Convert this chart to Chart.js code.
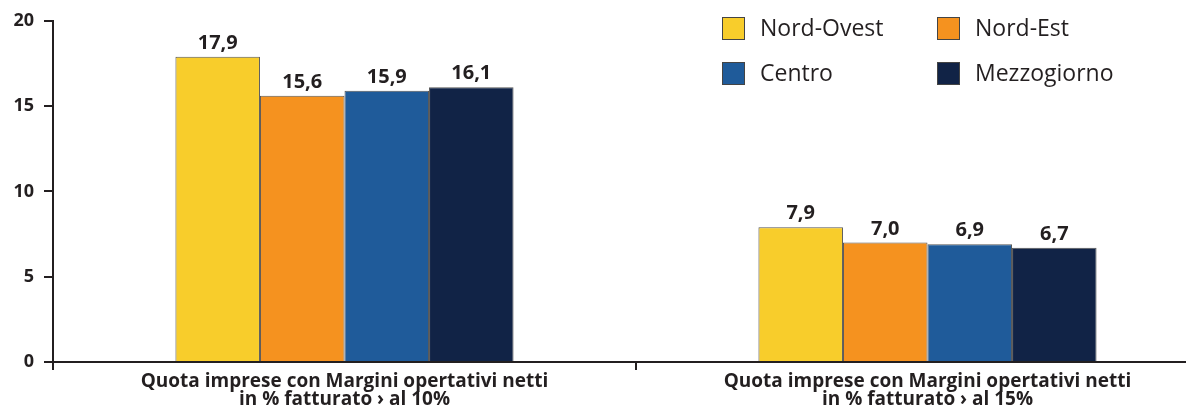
<!DOCTYPE html>
<html>
<head>
<meta charset="utf-8">
<script src="https://cdn.jsdelivr.net/npm/chart.js@4/dist/chart.umd.min.js"></script>
<style>
  html, body { margin: 0; padding: 0; background: #fff; overflow: hidden; }
  /* the category axis runs a little past the right edge of the picture */
  #wrap { width: 1219px; height: 413px; position: relative; }
</style>
</head>
<body>
<div id="wrap"><canvas id="chart"></canvas></div>
<script>
// data
const categories = [
  ['Quota imprese con Margini opertativi netti', 'in % fatturato \u203A al 10%'],
  ['Quota imprese con Margini opertativi netti', 'in % fatturato \u203A al 15%']
];
const seriesNames = ['Nord-Ovest', 'Nord-Est', 'Centro', 'Mezzogiorno'];
const nordOvest = [17.9, 7.9];
const nordEst = [15.6, 7.0];
const centro = [15.9, 6.9];
const mezzogiorno = [16.1, 6.7];
const yTicks = [0, 5, 10, 15, 20];

const colors = ['#F8CD2B', '#F5921F', '#1F5B9A', '#112346'];
const textColor = '#231F20';
const fontFamily = "'Open Sans', sans-serif";

const fmt = v => v.toFixed(1).replace('.', ',');

// value labels above bars
const valueLabels = {
  id: 'valueLabels',
  afterDatasetsDraw(chart) {
    const ctx = chart.ctx;
    ctx.save();
    ctx.font = 'bold 20px ' + fontFamily;
    ctx.fillStyle = textColor;
    ctx.textAlign = 'center';
    ctx.textBaseline = 'alphabetic';
    chart.data.datasets.forEach((ds, i) => {
      chart.getDatasetMeta(i).data.forEach((bar, j) => {
        ctx.fillText(fmt(ds.data[j]), bar.x, bar.y - 8);
      });
    });
    ctx.restore();
  }
};

// 2x2 legend in the top right corner
const gridLegend = {
  id: 'gridLegend',
  afterDraw(chart) {
    const ctx = chart.ctx;
    const colX = [722, 937];
    const rowY = [17, 62];
    ctx.save();
    ctx.font = '23px ' + fontFamily;
    ctx.textBaseline = 'middle';
    ctx.textAlign = 'left';
    chart.data.datasets.forEach((ds, i) => {
      const x = colX[i % 2];
      const y = rowY[Math.floor(i / 2)];
      ctx.fillStyle = ds.backgroundColor;
      ctx.fillRect(x, y, 23, 23);
      ctx.strokeStyle = '#444';
      ctx.lineWidth = 1;
      ctx.strokeRect(x + 0.5, y + 0.5, 22, 22);
      ctx.fillStyle = textColor;
      ctx.fillText(ds.label, x + 38, y + 12);
    });
    ctx.restore();
  }
};

const seriesData = [nordOvest, nordEst, centro, mezzogiorno];

new Chart(document.getElementById('chart'), {
  type: 'bar',
  data: {
    labels: categories,
    datasets: seriesNames.map((name, i) => ({
      label: name,
      data: seriesData[i],
      backgroundColor: colors[i],
      borderColor: '#555',
      borderWidth: 1,
      categoryPercentage: 0.58,
      barPercentage: 1
    }))
  },
  options: {
    responsive: true,
    maintainAspectRatio: false,
    animation: false,
    layout: { padding: { top: 20, right: 0, bottom: 0, left: 0 } },
    plugins: {
      legend: { display: false },
      tooltip: { enabled: false }
    },
    scales: {
      x: {
        afterFit(axis) { axis.height = 51; },
        grid: {
          drawOnChartArea: false,
          drawTicks: true,
          tickLength: 8,
          color: textColor,
          lineWidth: 2
        },
        border: { color: textColor, width: 2 },
        ticks: {
          color: textColor,
          padding: 3,
          maxRotation: 0,
          autoSkip: false,
          font: { family: fontFamily, size: 19, weight: 'bold', lineHeight: 0.95 }
        }
      },
      y: {
        min: 0,
        max: 20,
        afterFit(axis) { axis.width = 53; },
        afterBuildTicks(axis) {
          axis.ticks = yTicks.map(v => ({ value: v }));
        },
        grid: {
          drawOnChartArea: false,
          drawTicks: true,
          tickLength: 9,
          color: textColor,
          lineWidth: 2
        },
        border: { color: textColor, width: 2 },
        ticks: {
          color: textColor,
          padding: 10,
          font: { family: fontFamily, size: 18, weight: 'bold' }
        }
      }
    }
  },
  plugins: [valueLabels, gridLegend]
});
</script>
</body>
</html>
